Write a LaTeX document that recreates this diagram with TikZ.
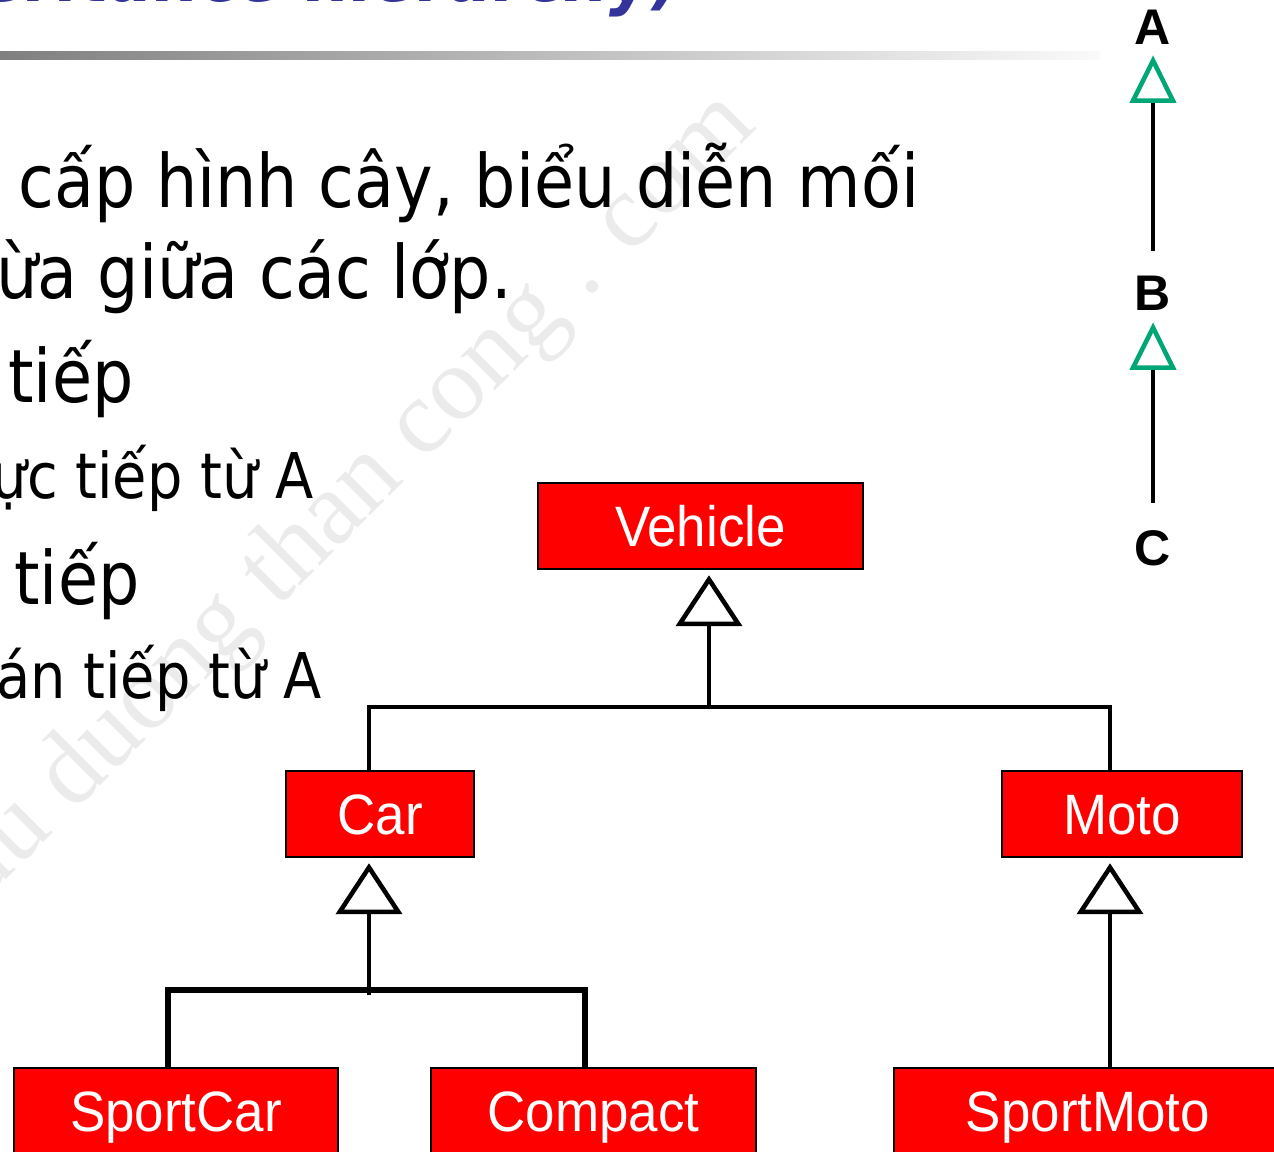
\documentclass[tikz,border=0pt]{standalone}
\usepackage{fontspec}
\setmainfont{DejaVu Sans}
\newfontfamily\bodyfont[FakeStretch=0.885]{DejaVu Sans}
\newfontfamily\titlefont[FakeStretch=0.9]{DejaVu Sans}
\newfontfamily\boxfont[FakeStretch=0.93]{Liberation Sans}
\newfontfamily\letterfont{Liberation Sans}
\newfontfamily\markfont{Liberation Serif}
\usetikzlibrary{arrows.meta}
\definecolor{titleblue}{RGB}{51,51,153}
\definecolor{jgreen}{RGB}{0,166,118}
\tikzset{
	cls/.style={draw=black,line width=1.4pt,fill=red,text=white,inner sep=0,
		font=\boxfont\fontsize{32.4}{36}\selectfont,text height=23pt,text depth=0pt,minimum height=1.72cm},
	big/.style={font=\bodyfont\fontsize{41.9}{48}\selectfont,inner sep=0},
	small/.style={font=\bodyfont\fontsize{35.9}{42}\selectfont,inner sep=0},
	letter/.style={font=\letterfont\bfseries\fontsize{28.5}{32}\selectfont,inner sep=0,anchor=base},
	link/.style={line width=2.6pt},
	gen/.style={link,-{Triangle[open,length=1.02cm,width=1.32cm]},shorten >=0.1cm},
	ggen/.style={line width=1.8pt,-{Triangle[open,color=jgreen,line width=2.6pt,length=0.95cm,width=0.92cm]}}
}
\begin{document}
\begin{tikzpicture}[x=0.02cm,y=-0.02cm]
	\useasboundingbox (0,0) rectangle (1274,1152);
	\clip (0,0) rectangle (1274,1152);
	\node[anchor=base east,rotate=45,text=black!8,inner sep=0,font=\markfont\fontsize{59.75}{60}\selectfont] (mark) at (758,128) {cuu duong than cong . com};
	\node[anchor=base east,inner sep=0,text=titleblue,font=\titlefont\bfseries\itshape\fontsize{41}{48}\selectfont] (title) at (682,1.5) {(Inheritance hierarchy)};
	\shade[left color=black!50,right color=black!2] (0,52) rectangle (1100,60);
	\node[big,anchor=base west] (l1) at (18,208) {cấp hình cây, biểu diễn mối};
	\node[big,anchor=base east] (l2) at (512,298) {ừa giữa các lớp.};
	\node[big,anchor=base west] (l3) at (8,402) {tiếp};
	\node[small,anchor=base east] (l4) at (314,498) {ực tiếp từ A};
	\node[big,anchor=base west] (l5) at (14,604) {tiếp};
	\node[small,anchor=base east] (l6) at (322,698) {án tiếp từ A};
	\node[letter] (A) at (1153,45) {A};
	\node[letter] (B) at (1153,310) {B};
	\node[letter] (C) at (1153,565) {C};
	\draw[ggen,shorten <=0.48cm,shorten >=0.2cm] (B.north) -- (A.south);
	\draw[ggen,shorten <=0.54cm,shorten >=0.24cm] (C.north) -- (B.south);
	\node[cls,minimum width=6.5cm] (Vehicle) at (700.5,526) {Vehicle};
	\node[cls,minimum width=3.76cm] (Car) at (380,814) {Car};
	\node[cls,minimum width=4.8cm] (Moto) at (1122,814) {Moto};
	\node[cls,minimum width=6.48cm] (SportCar) at (176,1111) {SportCar};
	\node[cls,minimum width=6.5cm] (Compact) at (593.5,1111) {Compact};
	\node[cls,minimum width=7.76cm] (SportMoto) at (1088,1111) {SportMoto};
	\coordinate (vjoin) at (709,707);
	\coordinate (cjoin) at (369,990);
	\coordinate (mjoin) at (1110,990);
	\coordinate (scjoin) at (168,990);
	\coordinate (cpjoin) at (585,990);
	\draw[gen] (vjoin) -- (Vehicle.south -| vjoin);
	\draw[link] (Car.north -| cjoin) |- (vjoin) -| (Moto.north -| mjoin);
	\draw[gen] ([yshift=-0.1cm]cjoin) -- (Car.south -| cjoin);
	\draw[link,line width=3.4pt] (SportCar.north -| scjoin) -- (scjoin) -- (cpjoin) -- (Compact.north -| cpjoin);
	\draw[gen] (SportMoto.north -| mjoin) -- (Moto.south -| mjoin);
\end{tikzpicture}
\end{document}
